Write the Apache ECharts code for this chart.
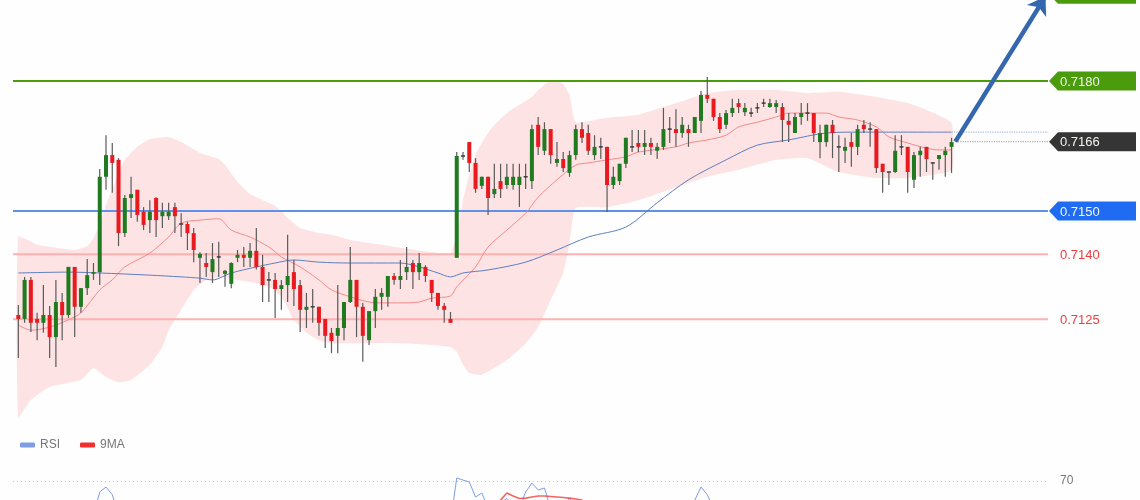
<!DOCTYPE html>
<html><head><meta charset="utf-8">
<script src="https://cdn.jsdelivr.net/npm/echarts@6/dist/echarts.min.js"></script>
<style>html,body{margin:0;padding:0;background:#fdfefd}#c{width:1140px;height:500px}</style>
</head><body><div id="c"></div>
<script>
// candles: [open, close, low, high]
const candles = [
[0.71260,0.71251,0.71161,0.71283],[0.71251,0.71341,0.71242,0.71348],[0.71341,0.71242,0.71221,0.71348],[0.71251,0.71242,0.71202,0.71265],[0.71242,0.71260,0.71219,0.71329],
[0.71260,0.71209,0.71161,0.71281],[0.71209,0.71290,0.71140,0.71341],[0.71290,0.71260,0.71202,0.71311],[0.71260,0.71371,0.71253,0.71371],[0.71371,0.71279,0.71209,0.71371],
[0.71279,0.71322,0.71265,0.71322],[0.71322,0.71352,0.71306,0.71389],[0.71355,0.71359,0.71341,0.71380],[0.71359,0.71579,0.71329,0.71597],[0.71579,0.71629,0.71549,0.71675],
[0.71629,0.71611,0.71542,0.71657],[0.71618,0.71449,0.71419,0.71622],[0.71449,0.71530,0.71440,0.71537],[0.71530,0.71539,0.71484,0.71579],[0.71549,0.71491,0.71475,0.71549],
[0.71498,0.71468,0.71456,0.71509],[0.71479,0.71498,0.71449,0.71525],[0.71530,0.71479,0.71440,0.71532],[0.71488,0.71498,0.71461,0.71519],[0.71488,0.71498,0.71479,0.71519],
[0.71509,0.71488,0.71449,0.71519],[0.71470,0.71470,0.71440,0.71495],[0.71470,0.71449,0.71410,0.71475],[0.71449,0.71410,0.71382,0.71461],[0.71392,0.71401,0.71334,0.71405],
[0.71380,0.71371,0.71348,0.71403],[0.71359,0.71389,0.71334,0.71426],[0.71394,0.71394,0.71348,0.71429],[0.71355,0.71362,0.71325,0.71364],[0.71332,0.71380,0.71322,0.71382],
[0.71392,0.71399,0.71382,0.71410],[0.71399,0.71392,0.71371,0.71417],[0.71392,0.71408,0.71371,0.71426],[0.71408,0.71371,0.71365,0.71461],[0.71371,0.71329,0.71290,0.71399],
[0.71341,0.71341,0.71290,0.71359],[0.71341,0.71320,0.71253,0.71357],[0.71320,0.71329,0.71272,0.71341],[0.71329,0.71350,0.71290,0.71445],[0.71359,0.71320,0.71281,0.71387],
[0.71329,0.71272,0.71221,0.71341],[0.71272,0.71279,0.71230,0.71311],[0.71279,0.71279,0.71242,0.71320],[0.71279,0.71242,0.71212,0.71279],[0.71251,0.71212,0.71184,0.71251],
[0.71219,0.71200,0.71172,0.71230],[0.71212,0.71230,0.71172,0.71329],[0.71230,0.71290,0.71202,0.71290],[0.71290,0.71341,0.71288,0.71417],[0.71341,0.71279,0.71209,0.71341],
[0.71279,0.71212,0.71152,0.71288],[0.71202,0.71269,0.71191,0.71269],[0.71269,0.71302,0.71230,0.71320],[0.71302,0.71311,0.71272,0.71322],[0.71302,0.71350,0.71279,0.71350],
[0.71350,0.71341,0.71330,0.71357],[0.71341,0.71350,0.71320,0.71387],[0.71359,0.71371,0.71341,0.71417],[0.71380,0.71359,0.71320,0.71387],[0.71359,0.71380,0.71341,0.71403],
[0.71371,0.71350,0.71336,0.71375],[0.71341,0.71311,0.71290,0.71341],[0.71311,0.71281,0.71272,0.71311],[0.71281,0.71272,0.71242,0.71288],[0.71251,0.71242,0.71242,0.71267],
[0.71392,0.71627,0.71392,0.71636],[0.71627,0.71627,0.71618,0.71636],[0.71659,0.71611,0.71590,0.71659],[0.71611,0.71551,0.71542,0.71622],[0.71558,0.71579,0.71551,0.71579],
[0.71579,0.71530,0.71491,0.71579],[0.71539,0.71551,0.71530,0.71609],[0.71569,0.71551,0.71530,0.71609],[0.71560,0.71579,0.71551,0.71609],[0.71560,0.71579,0.71549,0.71609],
[0.71560,0.71579,0.71509,0.71609],[0.71579,0.71579,0.71551,0.71609],[0.71569,0.71689,0.71551,0.71699],[0.71699,0.71648,0.71629,0.71717],[0.71639,0.71689,0.71629,0.71705],
[0.71689,0.71629,0.71609,0.71689],[0.71611,0.71620,0.71602,0.71659],[0.71620,0.71599,0.71590,0.71636],[0.71588,0.71629,0.71579,0.71639],[0.71629,0.71689,0.71618,0.71699],
[0.71689,0.71669,0.71657,0.71705],[0.71680,0.71639,0.71629,0.71699],[0.71629,0.71648,0.71618,0.71675],[0.71648,0.71648,0.71620,0.71669],[0.71648,0.71560,0.71498,0.71648],
[0.71560,0.71579,0.71551,0.71602],[0.71569,0.71609,0.71560,0.71609],[0.71609,0.71669,0.71599,0.71669],[0.71648,0.71648,0.71636,0.71687],[0.71657,0.71648,0.71636,0.71687],
[0.71648,0.71657,0.71629,0.71687],[0.71657,0.71648,0.71629,0.71669],[0.71639,0.71648,0.71620,0.71657],[0.71648,0.71689,0.71641,0.71738],[0.71689,0.71689,0.71657,0.71717],
[0.71689,0.71680,0.71648,0.71735],[0.71680,0.71699,0.71669,0.71717],[0.71689,0.71680,0.71648,0.71699],[0.71680,0.71717,0.71680,0.71717],[0.71708,0.71768,0.71680,0.71777],
[0.71768,0.71759,0.71749,0.71809],[0.71759,0.71717,0.71708,0.71759],[0.71717,0.71689,0.71680,0.71726],[0.71699,0.71726,0.71689,0.71733],[0.71726,0.71738,0.71717,0.71759],
[0.71749,0.71740,0.71726,0.71759],[0.71728,0.71738,0.71719,0.71749],[0.71726,0.71726,0.71717,0.71738],[0.71738,0.71738,0.71726,0.71749],[0.71749,0.71749,0.71740,0.71759],
[0.71740,0.71749,0.71738,0.71759],[0.71740,0.71749,0.71726,0.71756],[0.71740,0.71710,0.71659,0.71749],[0.71708,0.71699,0.71659,0.71726],[0.71680,0.71717,0.71680,0.71726],
[0.71717,0.71726,0.71699,0.71749],[0.71726,0.71726,0.71708,0.71749],[0.71726,0.71680,0.71659,0.71726],[0.71659,0.71680,0.71622,0.71699],[0.71659,0.71699,0.71648,0.71699],
[0.71699,0.71680,0.71622,0.71710],[0.71648,0.71648,0.71590,0.71675],[0.71639,0.71648,0.71611,0.71669],[0.71659,0.71648,0.71602,0.71680],[0.71648,0.71689,0.71629,0.71699],
[0.71699,0.71689,0.71680,0.71710],[0.71689,0.71689,0.71648,0.71705],[0.71689,0.71599,0.71588,0.71689],[0.71609,0.71590,0.71542,0.71609],[0.71590,0.71590,0.71560,0.71590],
[0.71590,0.71639,0.71588,0.71675],[0.71648,0.71648,0.71629,0.71675],[0.71648,0.71590,0.71542,0.71648],[0.71572,0.71629,0.71553,0.71636],[0.71629,0.71639,0.71579,0.71648],
[0.71648,0.71620,0.71590,0.71648],[0.71611,0.71611,0.71572,0.71611],[0.71620,0.71629,0.71595,0.71629],[0.71629,0.71639,0.71579,0.71648],[0.71648,0.71659,0.71588,0.71669]
];
// Bollinger band edges and averages: [candle index, price]
const bandUpper = [[0,0.71440],[3,0.71422],[6,0.71415],[9,0.71410],[11,0.71419],[12,0.71438],[13,0.71468],[14,0.71514],[15,0.71549],[16,0.71590],[17,0.71618],[19,0.71648],[21,0.71666],[24,0.71671],[26,0.71659],[29,0.71634],[32,0.71620],[33,0.71606],[35,0.71567],[37,0.71539],[39,0.71525],[41,0.71512],[43,0.71484],[45,0.71461],[48,0.71449],[50,0.71445],[53,0.71433],[56,0.71426],[58,0.71422],[61,0.71415],[66,0.71405],[69,0.71403],[70,0.71445],[71,0.71525],[72,0.71583],[73,0.71629],[74,0.71657],[75,0.71680],[76,0.71698],[78,0.71726],[80,0.71745],[82,0.71763],[83,0.71779],[85,0.71802],[86,0.71802],[87,0.71793],[88,0.71768],[89,0.71705],[94,0.71715],[99,0.71722],[105,0.71749],[110,0.71772],[115,0.71779],[121,0.71779],[126,0.71772],[131,0.71775],[137,0.71763],[142,0.71749],[145,0.71733],[149,0.71703]];
const bandLower = [[0,0.71025],[2,0.71064],[5,0.71094],[10,0.71110],[12,0.71138],[14,0.71117],[16,0.71105],[18,0.71110],[21,0.71145],[23,0.71186],[24,0.71225],[26,0.71272],[28,0.71318],[30,0.71341],[33,0.71348],[35,0.71341],[38,0.71334],[40,0.71325],[42,0.71302],[44,0.71249],[46,0.71219],[48,0.71202],[50,0.71195],[55,0.71195],[61,0.71195],[66,0.71191],[69,0.71186],[70,0.71175],[71,0.71145],[72,0.71126],[74,0.71122],[78,0.71156],[81,0.71195],[83,0.71232],[85,0.71295],[87,0.71357],[88,0.71426],[89,0.71507],[94,0.71509],[99,0.71525],[105,0.71555],[110,0.71579],[115,0.71595],[121,0.71618],[126,0.71622],[131,0.71590],[137,0.71576],[142,0.71576],[149,0.71595]];
const bandMid = [[0,0.71237],[2,0.71225],[5,0.71232],[8,0.71249],[10,0.71265],[13,0.71318],[15,0.71341],[17,0.71371],[21,0.71403],[24,0.71440],[26,0.71472],[29,0.71479],[32,0.71482],[34,0.71456],[37,0.71440],[40,0.71417],[42,0.71394],[45,0.71371],[48,0.71341],[50,0.71318],[53,0.71302],[56,0.71290],[58,0.71288],[61,0.71288],[64,0.71290],[66,0.71299],[69,0.71304],[70,0.71325],[73,0.71371],[75,0.71417],[78,0.71456],[81,0.71495],[83,0.71532],[86,0.71572],[89,0.71606],[91,0.71611],[94,0.71618],[97,0.71625],[99,0.71636],[105,0.71648],[107,0.71657],[110,0.71664],[113,0.71675],[115,0.71694],[118,0.71705],[121,0.71717],[123,0.71726],[126,0.71726],[129,0.71726],[131,0.71717],[134,0.71710],[137,0.71694],[139,0.71671],[142,0.71657],[145,0.71645],[147,0.71641],[149,0.71641]];
const slowMA = [[0,0.71357],[8,0.71359],[13,0.71357],[21,0.71352],[26,0.71348],[29,0.71345],[31,0.71341],[34,0.71357],[38,0.71371],[41,0.71380],[44,0.71387],[48,0.71382],[53,0.71380],[61,0.71380],[64,0.71371],[67,0.71357],[69,0.71348],[71,0.71357],[75,0.71364],[81,0.71382],[86,0.71410],[91,0.71440],[97,0.71463],[102,0.71519],[107,0.71572],[113,0.71618],[118,0.71652],[123,0.71664],[129,0.71680],[134,0.71682],[139,0.71682],[145,0.71682],[149,0.71682]];
// RSI panel
const rsi = [46,52,44,41,45,40,47,44,53,44,48,51,45,62,65.6,60,45,
50,51,47,45,47,44,46,46,45,44,42,38,36,35,
38,39,36,40,42,41,43,38,34,35,33,35,38,34,30,31,31,28,26,25,
29,35,41,34,28,35,39,40,45,44,46,48,45,48,45,41,37,36,40,
72.2,70.7,69.3,58.3,61.2,50,45,54,57.3,52,50,62,68.5,63.4,64.9,50,52,50,57.5,50,
53,49,50,49,40,43,46,52,50,49,50,49,48,54,53,52,53,
48,56,65.6,60,50,
46,50,52,53,53,51,52,53,53,53,46,45,49,50,50,45,46,50,48,43,43,42,48,49,48,38,35,35,43,44,38,44,45,43,41,43,45,48];
const rsiMA = [45,45,46,46,46,46,46,46,47,47,47,47,47,48,50,51,51,
51,51,51,51,50,50,50,50,49,48,47,46,45,44,42,41,40,40,39,39,39,39,39,38,
37,36,36,36,35,34,33,33,32,31,30,30,30,30,31,32,33,34,36,37,39,41,42,43,44,45,44,43,42,
44,46,48,50,51,52,53,
56,61.2,59,57.2,57.5,58.3,59,59,58.7,58.3,57.9,57.5,56.8,56.1,52,
50,49,48,47,47,47,48,48,48,49,49,49,50,50,51,51,51,52,53,53,52,52,51,51,51,51,51,51,51,50,50,49,49,48,48,48,47,47,46,45,45,45,44,43,43,42,42,42,42,42,43,43,43,43,43,43,43,44];
const rsiLevel = 70;
// price levels
const tagLevels = [0.7200, 0.7180, 0.7166, 0.7150];
const tagTexts = ['0.7200', '0.7180', '0.7166', '0.7150'];
const plainLevels = [0.7140, 0.7125];
const plainTexts = ['0.7140', '0.7125'];
const lineLevels = [0.7180, 0.7150, 0.7140, 0.7125];
const lastClose = 0.7166;
const lastSlow = 0.71682;
const arrowFrom = [149.6, 0.7166];
const arrowTo = [164, 0.71995];

const X_MIN = -0.85, X_MAX = 164.4;
const GREEN = '#207a20', RED = '#e8191f', DOJI = '#3a3a3a', WICK = '#5a5a5a';
const TAG_COLORS = ['#4a9c0c', '#4a9c0c', '#353535', '#1f6cf2'];
const LINE_STYLES = [
  {stroke: '#4a9c0c', lineWidth: 2},
  {stroke: '#5f90ea', lineWidth: 2},
  {stroke: '#ffb0b0', lineWidth: 2},
  {stroke: '#ffb0b0', lineWidth: 2}
];
const FONT = '"Liberation Sans", Arial, sans-serif';

const chart = echarts.init(document.getElementById('c'), null, {renderer: 'canvas'});

function bandRender(params, api) {
  if (params.dataIndex !== 0) return null;
  const pts = [];
  bandUpper.forEach(p => pts.push(api.coord(p)));
  for (let k = bandLower.length - 1; k >= 0; k--) pts.push(api.coord(bandLower[k]));
  return {type: 'polygon', shape: {points: pts, smooth: 0.15}, style: {fill: '#fde3e3'}, z2: 0};
}
function candleRender(params, api) {
  const i = api.value(0), o = api.value(1), c = api.value(2), l = api.value(3), h = api.value(4);
  const pO = api.coord([i, o]), pC = api.coord([i, c]), pL = api.coord([i, l]), pH = api.coord([i, h]);
  const w = api.size([1, 0])[0] * 0.64;
  const x = pO[0];
  let top = Math.min(pO[1], pC[1]);
  let hgt = Math.abs(pO[1] - pC[1]);
  const fill = c > o ? GREEN : (c < o ? RED : DOJI);
  if (hgt < 1.5) { top -= (1.5 - hgt) / 2; hgt = 1.5; }
  return {type: 'group', children: [
    {type: 'line', shape: {x1: x, y1: pH[1], x2: x, y2: pL[1]}, style: {stroke: WICK, lineWidth: 1.2}},
    {type: 'rect', shape: {x: x - w / 2, y: top, width: w, height: hgt}, style: {fill: fill}}
  ]};
}
function levelRender(params, api) {
  const v = api.value(1);
  const a = api.coord([X_MIN, v]), b = api.coord([X_MAX, v]);
  return {type: 'line', shape: {x1: a[0], y1: a[1], x2: b[0], y2: b[1]}, style: LINE_STYLES[params.dataIndex]};
}
function tagRender(params, api) {
  const v = api.value(1);
  const p = api.coord([X_MAX, v]);
  const x0 = p[0] + 1, y = p[1];
  return {type: 'group', children: [
    {type: 'polygon', shape: {points: [[x0, y], [x0 + 9, y - 9.5], [x0 + 87, y - 9.5], [x0 + 87, y + 9.5], [x0 + 9, y + 9.5]]}, style: {fill: TAG_COLORS[params.dataIndex]}},
    {type: 'text', style: {text: tagTexts[params.dataIndex], x: x0 + 11, y: y + 1, verticalAlign: 'middle', fill: '#f2f6ee', font: '13px ' + FONT}}
  ]};
}
function plainRender(params, api) {
  const v = api.value(1);
  const p = api.coord([X_MAX, v]);
  return {type: 'text', style: {text: plainTexts[params.dataIndex], x: p[0] + 12, y: p[1] + 1, verticalAlign: 'middle', fill: '#f03c3c', font: '13px ' + FONT}};
}

const option = {
  animation: false,
  backgroundColor: '#fdfefd',
  textStyle: {fontFamily: FONT},
  grid: [
    {left: 13, right: 92, top: -5.67, height: 476.7, outerBoundsMode: 'none', containLabel: false},
    {left: 13, right: 92, top: 440, height: 136.7, outerBoundsMode: 'none', containLabel: false}
  ],
  xAxis: [
    {type: 'value', gridIndex: 0, min: X_MIN, max: X_MAX, show: false},
    {type: 'value', gridIndex: 1, min: X_MIN, max: X_MAX, show: false}
  ],
  yAxis: [
    {type: 'value', gridIndex: 0, min: 0.7090, max: 0.7200, show: false, scale: true},
    {type: 'value', gridIndex: 1, min: 0, max: 100, show: false}
  ],
  legend: {
    left: 15, top: 434, itemWidth: 15, itemHeight: 5, itemGap: 20, icon: 'roundRect',
    textStyle: {color: '#777', fontSize: 12, fontFamily: FONT},
    data: ['RSI', '9MA']
  },
  series: [
    {type: 'custom', name: 'band', renderItem: bandRender, data: bandUpper, clip: false, z: 1, silent: true},
    {type: 'custom', name: 'levels', renderItem: levelRender, data: lineLevels.map(v => [0, v]), clip: false, z: 2, silent: true},
    {type: 'line', name: 'mid', data: bandMid, showSymbol: false, smooth: 0.3, lineStyle: {color: '#f58a8a', width: 1}, z: 3, silent: true},
    {type: 'line', name: 'slow', data: slowMA, showSymbol: false, smooth: 0.3, lineStyle: {color: '#5f7fc0', width: 1}, z: 3, silent: true},
    {type: 'line', name: 'slowExt', data: [[149, lastSlow], [X_MAX, lastSlow]], showSymbol: false, lineStyle: {color: '#a9b9e2', width: 1.2, type: 'dotted'}, z: 3, silent: true},
    {type: 'line', name: 'lastExt', data: [[150, lastClose], [X_MAX, lastClose]], showSymbol: false, lineStyle: {color: '#b8a8a8', width: 1.2, type: 'dotted'}, z: 3, silent: true,
      markLine: {silent: true, symbol: ['none', 'arrow'], symbolSize: 17, label: {show: false},
        lineStyle: {color: '#3567ae', width: 4.5, type: 'solid'},
        data: [[{coord: arrowFrom}, {coord: arrowTo}]]}},
    {type: 'custom', name: 'candles', renderItem: candleRender, data: candles.map((c, i) => [i, c[0], c[1], c[2], c[3]]), encode: {x: 0, y: [1, 2, 3, 4]}, z: 4, silent: true},
    {type: 'custom', name: 'tags', renderItem: tagRender, data: tagLevels.map(v => [X_MAX, v]), clip: false, z: 6, silent: true},
    {type: 'custom', name: 'plain', renderItem: plainRender, data: plainLevels.map(v => [X_MAX, v]), clip: false, z: 6, silent: true},
    {type: 'line', name: 'RSI', xAxisIndex: 1, yAxisIndex: 1, data: rsi.map((v, i) => [i, v]), showSymbol: false, color: '#7f9ce6', lineStyle: {color: '#7f9ce6', width: 1}, z: 3, silent: true,
      markLine: {silent: true, symbol: 'none', data: [{yAxis: rsiLevel}], lineStyle: {color: '#c4c4c4', width: 1, type: [1, 3]},
        label: {show: true, position: 'end', distance: 12, formatter: String(rsiLevel), color: '#777', fontSize: 12}}},
    {type: 'line', name: '9MA', xAxisIndex: 1, yAxisIndex: 1, data: rsiMA.map((v, i) => [i, v]), showSymbol: false, color: '#f03030', lineStyle: {color: 'rgba(240,50,50,0.75)', width: 1.6}, z: 3, silent: true}
  ]
};
chart.setOption(option);
</script></body></html>
